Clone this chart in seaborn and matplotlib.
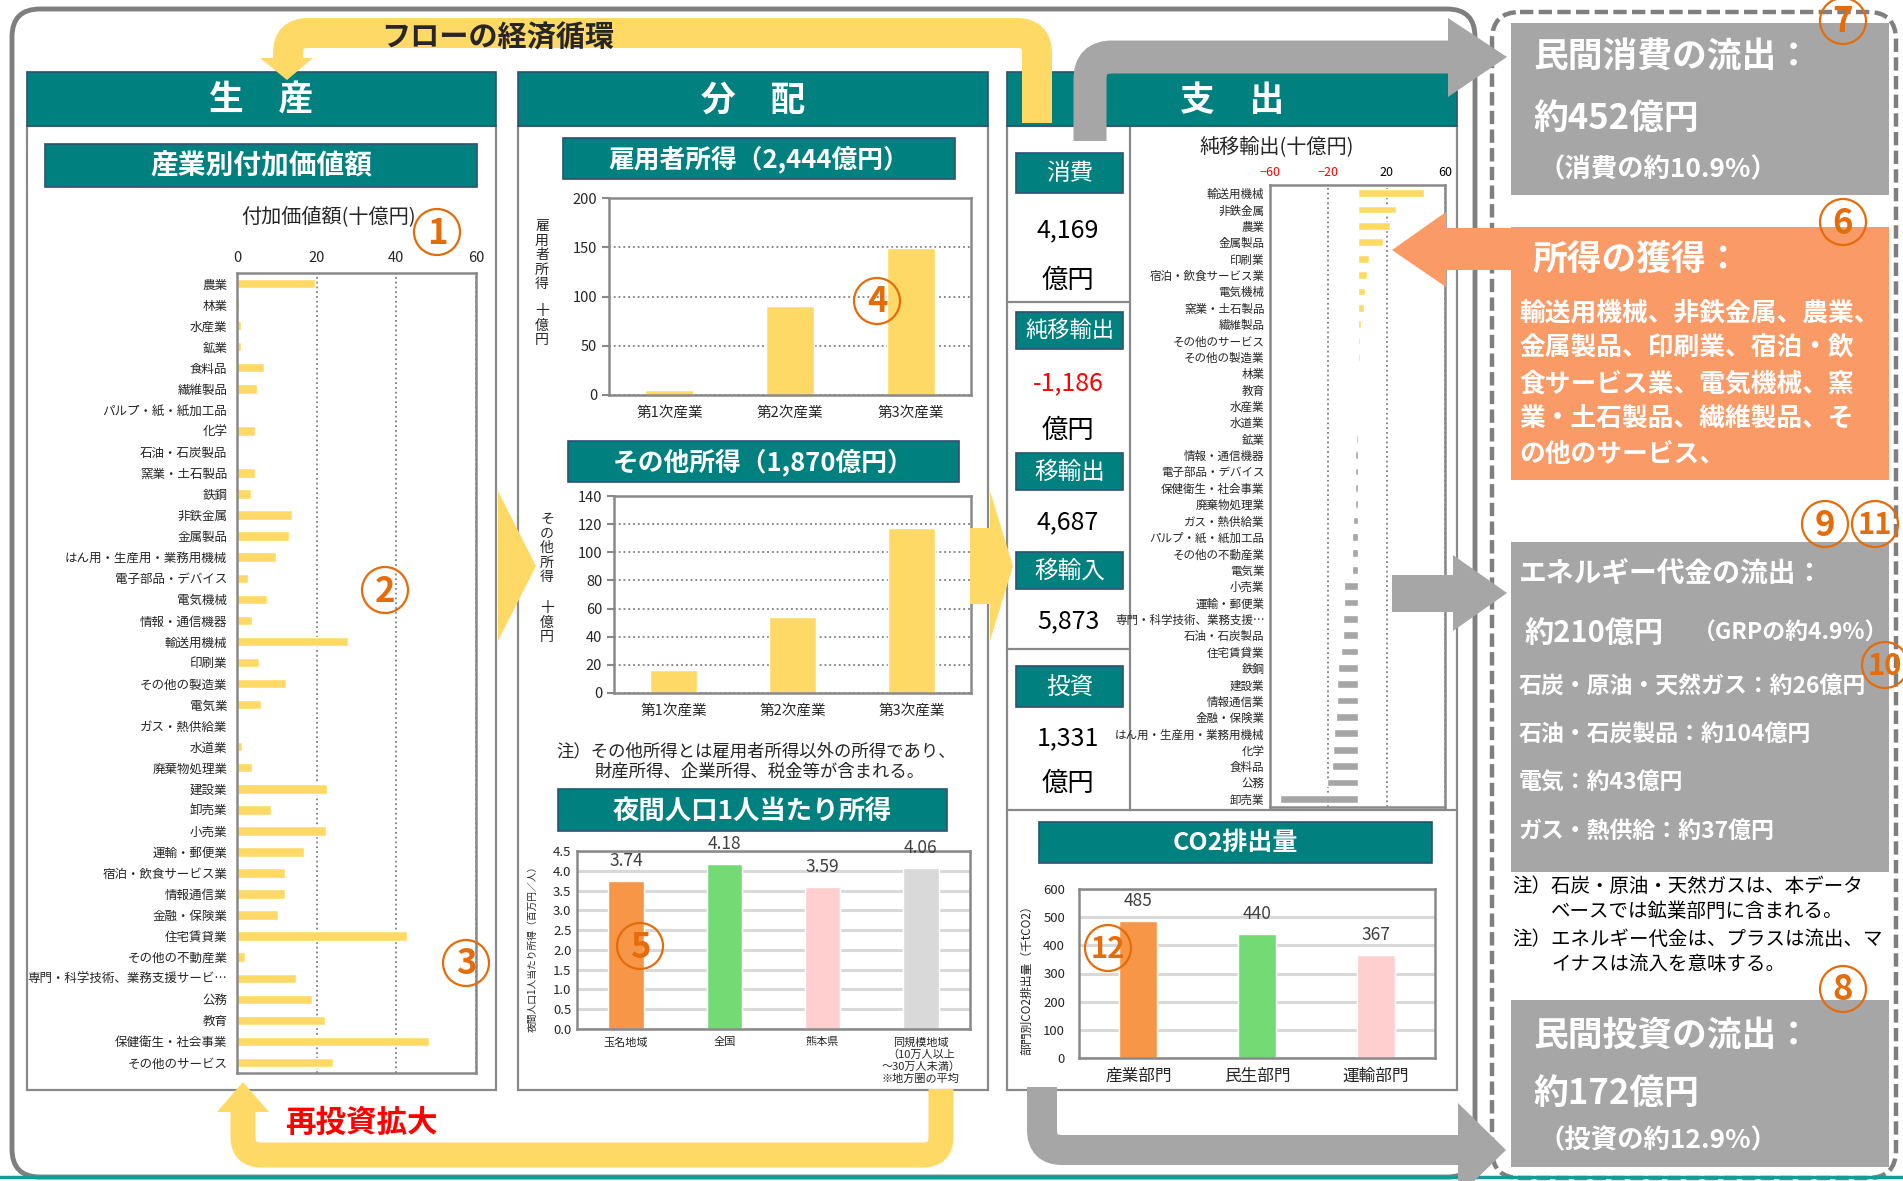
import matplotlib
matplotlib.use("Agg")
import matplotlib.pyplot as plt
import seaborn as sns
from matplotlib.patches import Rectangle, Polygon, Circle, PathPatch, FancyBboxPatch
from matplotlib.path import Path
import numpy as np

W, H = 1903, 1181

TEAL = "#00807E"
TEAL_EDGE = "#2F5073"
YELLOW = "#FFD966"
GRAY_BOX = "#A6A6A6"
ORANGE_BOX = "#FA9A66"
NUM_ORANGE = "#E46C0A"
FRAME = "#898989"

# ---- data ----
industries = ["農業", "林業", "水産業", "鉱業", "食料品", "繊維製品", "パルプ・紙・紙加工品", "化学",
              "石油・石炭製品", "窯業・土石製品", "鉄鋼", "非鉄金属", "金属製品", "はん用・生産用・業務用機械",
              "電子部品・デバイス", "電気機械", "情報・通信機器", "輸送用機械", "印刷業", "その他の製造業",
              "電気業", "ガス・熱供給業", "水道業", "廃棄物処理業", "建設業", "卸売業", "小売業", "運輸・郵便業",
              "宿泊・飲食サービス業", "情報通信業", "金融・保険業", "住宅賃貸業", "その他の不動産業",
              "専門・科学技術、業務支援サービ…", "公務", "教育", "保健衛生・社会事業", "その他のサービス"]
value_added = [19.6, 0.4, 1.0, 1.0, 6.9, 5.0, 0.1, 4.4, 0.3, 4.4, 3.6, 13.9, 13.0, 9.7, 2.8, 7.6,
               3.7, 27.9, 5.6, 12.3, 5.9, 0.0, 1.3, 3.8, 22.5, 8.6, 22.3, 16.8, 12.1, 12.1, 10.2,
               42.8, 2.1, 14.9, 18.9, 22.1, 48.3, 24.1]

net_export_labels = ["輸送用機械", "非鉄金属", "農業", "金属製品", "印刷業", "宿泊・飲食サービス業", "電気機械",
                     "窯業・土石製品", "繊維製品", "その他のサービス", "その他の製造業", "林業", "教育", "水産業",
                     "水道業", "鉱業", "情報・通信機器", "電子部品・デバイス", "保健衛生・社会事業", "廃棄物処理業",
                     "ガス・熱供給業", "パルプ・紙・紙加工品", "その他の不動産業", "電気業", "小売業", "運輸・郵便業",
                     "専門・科学技術、業務支援…", "石油・石炭製品", "住宅賃貸業", "鉄鋼", "建設業", "情報通信業",
                     "金融・保険業", "はん用・生産用・業務用機械", "化学", "食料品", "公務", "卸売業"]
net_export = [45.7, 26.6, 22.3, 17.5, 8.0, 6.8, 4.8, 4.3, 2.7, 1.6, 1.4, 0.5, 0.5, -0.2, -0.3, -1.1,
              -1.6, -1.8, -1.8, -2.0, -3.4, -3.9, -3.9, -4.0, -9.1, -9.5, -9.8, -10.2, -11.6, -13.2,
              -13.9, -14.3, -14.5, -16.1, -16.8, -17.5, -20.7, -53.4]

sectors = ["第1次産業", "第2次産業", "第3次産業"]
employee_income = [5.0, 90.8, 149.7]
other_income = [16.0, 54.1, 117.2]

regions = ["玉名地域", "全国", "熊本県", "同規模地域\n（10万人以上\n～30万人未満）\n※地方圏の平均"]
income_per_capita = [3.74, 4.18, 3.59, 4.06]

co2_sectors = ["産業部門", "民生部門", "運輸部門"]
co2_emissions = [485, 440, 367]

spending_labels = ["消費", "純移輸出", "移輸出", "移輸入", "投資"]
spending_values = ["4,169", "-1,186", "4,687", "5,873", "1,331"]

sns.set_theme(style="white")
plt.rcParams["font.family"] = ["Noto Sans CJK JP", "DejaVu Sans"]

fig = plt.figure(figsize=(W / 100, H / 100), dpi=100)
fig.patch.set_facecolor("white")


def layer(z):
    ax = fig.add_axes([0, 0, 1, 1], zorder=z)
    ax.set_xlim(0, W)
    ax.set_ylim(H, 0)
    ax.axis("off")
    return ax


def add_ax(x0, y0, x1, y1):
    return fig.add_axes([x0 / W, 1 - y1 / H, (x1 - x0) / W, (y1 - y0) / H], zorder=2)


def rect(ax, x0, y0, x1, y1, fc="white", ec="none", lw=0, z=1):
    ax.add_patch(Rectangle((x0, y0), x1 - x0, y1 - y0, facecolor=fc, edgecolor=ec, linewidth=lw, zorder=z))


def teal_box(ax, x0, y0, x1, y1, text, fs, weight="bold"):
    rect(ax, x0, y0, x1, y1, fc=TEAL, ec=TEAL_EDGE, lw=1.2, z=3)
    ax.text((x0 + x1) / 2, (y0 + y1) / 2 + 1, text, ha="center", va="center", color="white",
            fontsize=fs, weight=weight, zorder=4)


def band(ax, pts, width_px, color, r, z=5):
    verts = [pts[0]]
    codes = [Path.MOVETO]
    for i in range(1, len(pts) - 1):
        p0, p1, p2 = (np.array(p, dtype=float) for p in pts[i - 1:i + 2])
        d0 = (p1 - p0) / np.linalg.norm(p1 - p0)
        d1 = (p2 - p1) / np.linalg.norm(p2 - p1)
        verts += [tuple(p1 - d0 * r), tuple(p1), tuple(p1 + d1 * r)]
        codes += [Path.LINETO, Path.CURVE3, Path.CURVE3]
    verts.append(pts[-1])
    codes.append(Path.LINETO)
    ax.add_patch(PathPatch(Path(verts, codes), fill=False, edgecolor=color, linewidth=width_px * 0.72,
                           capstyle="butt", joinstyle="miter", zorder=z))


def tri(ax, pts, color, z=5):
    ax.add_patch(Polygon(pts, closed=True, facecolor=color, edgecolor="none", zorder=z))


def circ_num(ax, x, y, s):
    ax.add_patch(Circle((x, y), 23, fill=False, edgecolor=NUM_ORANGE, linewidth=1.6, zorder=20))
    ax.text(x, y + 1, s, ha="center", va="center", color=NUM_ORANGE, weight="bold",
            fontsize=25 if len(s) == 1 else 21, zorder=21)


def frame(ax):
    for sp in ax.spines.values():
        sp.set_visible(True)
        sp.set_color(FRAME)
        sp.set_linewidth(1.8)


bg = layer(0)
fg = layer(10)

# ---- outer frames ----
bg.add_patch(FancyBboxPatch((12, 9), 1463, 1168, boxstyle="round,pad=0,rounding_size=28",
                            facecolor="white", edgecolor="#7F7F7F", linewidth=3.5, zorder=0.5))
bg.add_patch(FancyBboxPatch((1492, 12), 404, 1166, boxstyle="round,pad=0,rounding_size=28",
                            facecolor="white", edgecolor="#7F7F7F", linewidth=3.2, linestyle=(0, (3, 1.2)),
                            zorder=0.5))
bg.plot([0, W], [1177, 1177], color="#169A96", lw=2.5, zorder=0.6)

# ---- panels ----
for x0, x1, title in [(27, 496, "生　産"), (518, 988, "分　配"), (1007, 1457, "支　出")]:
    rect(bg, x0, 126, x1, 1090, fc="white", ec=FRAME, lw=1.6, z=1)
    teal_box(bg, x0, 72, x1, 126, title, 25)
bg.plot([1130, 1130], [126, 810], color=FRAME, lw=1.6, zorder=2)
bg.plot([1007, 1457], [810, 810], color=FRAME, lw=1.6, zorder=2)
bg.plot([1007, 1130], [302, 302], color=FRAME, lw=1.6, zorder=2)
bg.plot([1007, 1130], [649, 649], color=FRAME, lw=1.6, zorder=2)

teal_box(bg, 45, 144, 477, 187, "産業別付加価値額", 20)
teal_box(bg, 563, 138, 955, 179, "雇用者所得（2,444億円）", 18.5)
teal_box(bg, 568, 441, 959, 482, "その他所得（1,870億円）", 18.5)
teal_box(bg, 558, 789, 947, 831, "夜間人口1人当たり所得", 19)
teal_box(bg, 1039, 822, 1432, 863, "CO2排出量", 18)

# spending column
label_y = [(153, 193), (312, 349), (453, 490), (552, 589), (666, 707)]
value_y = [230, 383, 522, 621, 738]
for (y0, y1), lab, val, vy in zip(label_y, spending_labels, spending_values, value_y):
    teal_box(bg, 1016, y0, 1123, y1, lab, 16 if len(lab) > 3 else 17, weight="normal")
    bg.text(1068, vy, val, ha="center", va="center", fontsize=18,
            color="#FF0000" if val.startswith("-") else "black", zorder=4)
for vy in [280, 430, 783]:
    bg.text(1068, vy, "億円", ha="center", va="center", fontsize=19, color="black", zorder=4)

# ---- flow bands ----
band(bg, [(1037, 123), (1037, 33), (288, 33), (288, 59)], 30, YELLOW, 20)
tri(bg, [(260, 58), (313, 58), (287, 80)], YELLOW)
bg.text(498, 38, "フローの経済循環", ha="center", va="center", fontsize=21, weight="bold", zorder=6)

band(bg, [(1090, 141), (1090, 57), (1450, 57)], 33, GRAY_BOX, 22)
tri(fg, [(1448, 18), (1448, 97), (1507, 57)], GRAY_BOX)

band(bg, [(941, 1089), (941, 1155), (243, 1155), (243, 1110)], 25, YELLOW, 18)
tri(bg, [(217, 1112), (269, 1112), (243, 1082)], YELLOW)
bg.text(361, 1123, "再投資拡大", ha="center", va="center", fontsize=22, weight="bold", color="#FF0000", zorder=6)

band(bg, [(1042, 1087), (1042, 1150), (1460, 1150)], 30, GRAY_BOX, 20)
tri(fg, [(1458, 1103), (1458, 1197), (1506, 1150)], GRAY_BOX)

# chevrons between panels
tri(fg, [(498, 491), (498, 641), (536, 566)], YELLOW)
rect(fg, 970, 528, 992, 604, fc=YELLOW, z=5)
tri(fg, [(990, 491), (990, 641), (1013, 566)], YELLOW)

# arrows to the right-hand boxes
rect(fg, 1445, 228, 1511, 270, fc=ORANGE_BOX, z=5)
tri(fg, [(1446, 212), (1446, 287), (1392, 250)], ORANGE_BOX)
rect(fg, 1392, 575, 1455, 612, fc=GRAY_BOX, z=5)
tri(fg, [(1453, 555), (1453, 631), (1507, 593)], GRAY_BOX)

# ---- right-hand boxes ----
rect(bg, 1511, 23, 1889, 195, fc=GRAY_BOX, z=2)
bg.text(1533, 57, "民間消費の流出：", fontsize=25, weight="bold", color="white", va="center", zorder=3)
bg.text(1533, 118, "約452億円", fontsize=25, weight="bold", color="white", va="center", zorder=3)
bg.text(1538, 170, "（消費の約10.9%）", fontsize=19, weight="bold", color="white", va="center", zorder=3)

rect(bg, 1511, 227, 1889, 480, fc=ORANGE_BOX, z=2)
bg.text(1533, 260, "所得の獲得：", fontsize=25, weight="bold", color="white", va="center", zorder=3)
gain_lines = ["輸送用機械、非鉄金属、農業、", "金属製品、印刷業、宿泊・飲", "食サービス業、電気機械、窯",
              "業・土石製品、繊維製品、そ", "の他のサービス、"]
for i, line in enumerate(gain_lines):
    bg.text(1519, 313 + 35.5 * i, line, fontsize=18.5, weight="bold", color="white", va="center", zorder=3)

rect(bg, 1511, 542, 1889, 872, fc=GRAY_BOX, z=2)
bg.text(1519, 574, "エネルギー代金の流出：", fontsize=20, weight="bold", color="white", va="center", zorder=3)
bg.text(1525, 633, "約210億円", fontsize=21, weight="bold", color="white", va="center", zorder=3)
bg.text(1693, 633, "（GRPの約4.9%）", fontsize=16.5, weight="bold", color="white", va="center", zorder=3)
energy_lines = ["石炭・原油・天然ガス：約26億円", "石油・石炭製品：約104億円", "電気：約43億円", "ガス・熱供給：約37億円"]
for i, line in enumerate(energy_lines):
    bg.text(1519, 687 + 48 * i, line, fontsize=16.5, weight="bold", color="white", va="center", zorder=3)

notes = [(1512, 887, "注）石炭・原油・天然ガスは、本データ"), (1551, 911, "ベースでは鉱業部門に含まれる。"),
         (1512, 939, "注）エネルギー代金は、プラスは流出、マ"), (1551, 964, "イナスは流入を意味する。")]
for x, y, s in notes:
    bg.text(x, y, s, fontsize=14, va="center", color="black", zorder=3)

rect(bg, 1511, 1000, 1889, 1167, fc=GRAY_BOX, z=2)
bg.text(1533, 1035, "民間投資の流出：", fontsize=25, weight="bold", color="white", va="center", zorder=3)
bg.text(1533, 1093, "約172億円", fontsize=25, weight="bold", color="white", va="center", zorder=3)
bg.text(1538, 1141, "（投資の約12.9%）", fontsize=19, weight="bold", color="white", va="center", zorder=3)

# ---- chart 1: value added by industry ----
ax1 = add_ax(237, 273, 476, 1073)
sns.barplot(x=value_added, y=industries, orient="h", color=YELLOW, saturation=1, width=0.45, ax=ax1)
ax1.set_xlim(0, 60)
ax1.set_xticks([0, 20, 40, 60])
ax1.xaxis.tick_top()
ax1.tick_params(axis="x", labelsize=10.5, length=0, pad=6)
ax1.tick_params(axis="y", labelsize=9, length=0, pad=7)
ax1.xaxis.grid(True, linestyle=":", color="#7F7F7F", linewidth=1.3)
ax1.set_axisbelow(True)
ax1.set_xlabel("")
ax1.set_ylabel("")
frame(ax1)
bg.text(329, 217, "付加価値額(十億円)", ha="center", va="center", fontsize=14.5, zorder=3)

# ---- chart 2: net exports ----
signs = ["pos" if v >= 0 else "neg" for v in net_export]
ax2 = add_ax(1270, 185, 1445, 807)
sns.barplot(x=net_export, y=net_export_labels, hue=signs, palette={"pos": YELLOW, "neg": GRAY_BOX},
            dodge=False, legend=False, orient="h", saturation=1, width=0.47, ax=ax2)
ax2.set_xlim(-60, 60)
ax2.set_xticks([-60, -20, 20, 60])
ax2.xaxis.tick_top()
ax2.tick_params(axis="x", labelsize=9, length=0, pad=4)
ax2.tick_params(axis="y", labelsize=8.3, length=0, pad=4)
for lbl, v in zip(ax2.get_xticklabels(), [-60, -20, 20, 60]):
    lbl.set_color("#FF0000" if v < 0 else "black")
ax2.xaxis.grid(True, linestyle=":", color="#7F7F7F", linewidth=1.3)
ax2.set_axisbelow(True)
ax2.set_xlabel("")
ax2.set_ylabel("")
frame(ax2)
bg.text(1277, 148, "純移輸出(十億円)", ha="center", va="center", fontsize=14.5, zorder=3)


def sector_chart(box, values, ymax, step, label_top, label_bottom, label_y):
    ax = add_ax(*box)
    sns.barplot(x=sectors, y=values, color=YELLOW, saturation=1, width=0.4, ax=ax)
    ax.set_ylim(0, ymax)
    ax.set_yticks(np.arange(0, ymax + 1, step))
    ax.yaxis.grid(True, linestyle=":", color="#7F7F7F", linewidth=1.3)
    ax.set_axisbelow(True)
    ax.set_xticks([-0.5, 0.5, 1.5, 2.5], minor=True)
    ax.tick_params(axis="x", which="major", length=0, labelsize=10.5, pad=8)
    ax.tick_params(axis="x", which="minor", length=5, width=1.5, color=FRAME, direction="out")
    ax.tick_params(axis="y", length=5, width=1.5, color=FRAME, direction="out", labelsize=10.5, left=True)
    ax.set_xlabel("")
    ax.set_ylabel("")
    frame(ax)
    x = box[0] - 67
    bg.text(x, label_y[0], label_top, ha="center", va="top", fontsize=10, linespacing=1.05, zorder=3)
    bg.text(x, label_y[1], label_bottom, ha="center", va="top", fontsize=10, linespacing=1.05, zorder=3)
    return ax


sector_chart((609, 198, 971, 395), employee_income, 200, 50, "雇\n用\n者\n所\n得", "十\n億\n円", (219, 304))
sector_chart((614, 496, 971, 693), other_income, 140, 20, "そ\nの\n他\n所\n得", "十\n億\n円", (512, 601))
bg.text(556, 751, "注）その他所得とは雇用者所得以外の所得であり、", fontsize=12.5, va="center", zorder=3)
bg.text(594, 772, "財産所得、企業所得、税金等が含まれる。", fontsize=12.5, va="center", zorder=3)

# ---- chart 5: income per capita ----
region_colors = ["#F79646", "#74DB74", "#FFCFD0", "#D9D9D9"]
ax5 = add_ax(577, 851, 970, 1029)
sns.barplot(x=regions, y=income_per_capita, hue=regions, palette=region_colors, legend=False,
            saturation=1, width=0.36, ax=ax5)
ax5.set_ylim(0, 4.5)
ax5.set_yticks(np.arange(0, 4.51, 0.5))
ax5.set_yticklabels([f"{t:.1f}" for t in np.arange(0, 4.51, 0.5)])
ax5.yaxis.grid(True, color="#D9D9D9", linewidth=2.2)
ax5.set_axisbelow(True)
ax5.tick_params(axis="x", length=0, labelsize=8, pad=6)
ax5.tick_params(axis="y", length=0, labelsize=9.5, pad=4)
for c in ax5.containers:
    ax5.bar_label(c, fmt="%.2f", padding=8, fontsize=12.5, color="#404040")
ax5.set_xlabel("")
ax5.set_ylabel("")
frame(ax5)
bg.text(533, 946, "夜間人口1人当たり所得（百万円／人）", rotation=90, ha="center", va="center",
        fontsize=7, zorder=3)

# ---- chart 6: CO2 ----
co2_colors = ["#F79646", "#74DB74", "#FFCFD0"]
ax6 = add_ax(1079, 889, 1435, 1058)
sns.barplot(x=co2_sectors, y=co2_emissions, hue=co2_sectors, palette=co2_colors, legend=False,
            saturation=1, width=0.32, ax=ax6)
ax6.set_ylim(0, 600)
ax6.set_yticks(np.arange(0, 601, 100))
ax6.yaxis.grid(True, color="#D9D9D9", linewidth=2.2)
ax6.set_axisbelow(True)
ax6.tick_params(axis="x", length=0, labelsize=12, pad=7)
ax6.tick_params(axis="y", length=0, labelsize=9.5, pad=10)
for c in ax6.containers:
    ax6.bar_label(c, fmt="%d", padding=8, fontsize=12.5, color="#404040")
ax6.set_xlabel("")
ax6.set_ylabel("")
frame(ax6)
bg.text(1027, 977, "部門別CO2排出量（千tCO2）", rotation=90, ha="center", va="center", fontsize=8.5, zorder=3)

# ---- circled numbers ----
for x, y, s in [(437, 232, "1"), (385, 590, "2"), (466, 963, "3"), (877, 301, "4"), (640, 946, "5"),
                (1843, 222, "6"), (1843, 21, "7"), (1843, 989, "8"), (1825, 524, "9"), (1885, 665, "10"),
                (1875, 524, "11"), (1108, 948, "12")]:
    circ_num(fg, x, y, s)

fig.savefig("out.png", dpi=100)
